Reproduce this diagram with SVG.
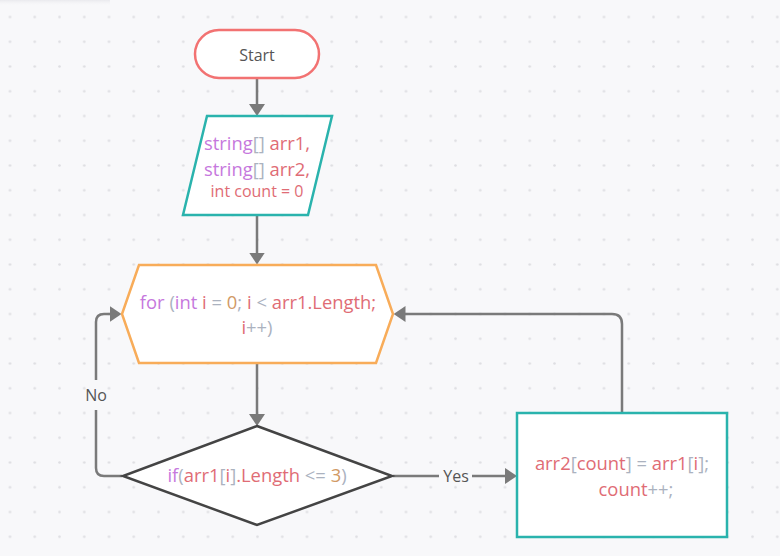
<svg xmlns="http://www.w3.org/2000/svg" width="780" height="556" viewBox="0 0 780 556">
<defs>
<pattern id="dots" x="-2.375" y="4.625" width="24.75" height="24.75" patternUnits="userSpaceOnUse">
<circle cx="12.375" cy="12.375" r="1.3" fill="#dedee2"/>
</pattern>
<marker id="arr" viewBox="0 0 12 16" refX="6" refY="8" markerWidth="12" markerHeight="16" markerUnits="userSpaceOnUse" orient="auto">
<path d="M0,0 L12,8 L0,16 z" fill="#7a7a7a"/>
</marker>
<linearGradient id="shade" x1="0" y1="0" x2="0" y2="1">
<stop offset="0" stop-color="#e6e6ea" stop-opacity="0.8"/>
<stop offset="1" stop-color="#f8f8fa" stop-opacity="0"/>
</linearGradient>
</defs>
<style>
text{font-family:"Open Sans","Noto Sans","DejaVu Sans",sans-serif;}
.code{font-size:18.4px;}
.lbl{font-size:16px;fill:#555;}
.kw{fill:#c678dd;}
.v{fill:#e06c75;}
.p{fill:#abb2bf;}
.n{fill:#d19a66;}
.con{fill:none;stroke:#7a7a7a;stroke-width:2.5;}
.shape{fill:#fff;stroke-width:2.5;}
</style>
<rect width="780" height="556" fill="#f8f8fa"/>
<rect width="780" height="556" fill="url(#dots)"/>
<rect x="0" y="0" width="110" height="6" fill="url(#shade)"/>

<g id="connectors">
<path class="con" d="M257 78 V110" marker-end="url(#arr)"/>
<path class="con" d="M257 215 V258.5" marker-end="url(#arr)"/>
<path class="con" d="M257 363 V420" marker-end="url(#arr)"/>
<path class="con" d="M122 476 H104 Q96 476 96 468 V410"/>
<path class="con" d="M96 380 V322 Q96 314 104 314 H115.5" marker-end="url(#arr)"/>
<text class="lbl" x="96" y="401" text-anchor="middle">No</text>
<path class="con" d="M393 476 H439"/>
<path class="con" d="M472 476 H511" marker-end="url(#arr)"/>
<text class="lbl" x="456" y="481.5" text-anchor="middle">Yes</text>
<path class="con" d="M622 413 V324 Q622 314 612 314 H399.5" marker-end="url(#arr)"/>
</g>

<g id="start">
<rect class="shape" x="195" y="30" width="124" height="48" rx="24" stroke="#f27272"/>
<text x="257" y="61" text-anchor="middle" font-size="16" fill="#555">Start</text>
</g>

<g id="input">
<polygon class="shape" points="207,116 332,116 308,215 183,215" stroke="#2ab3ad"/>
<text class="code" x="257" y="150" text-anchor="middle"><tspan class="kw">string</tspan><tspan class="p">[]</tspan><tspan class="v"> arr1,</tspan></text>
<text class="code" x="257" y="175.5" text-anchor="middle"><tspan class="kw">string</tspan><tspan class="p">[]</tspan><tspan class="v"> arr2,</tspan></text>
<text x="257" y="197" text-anchor="middle" font-size="16" class="v">int count = 0</text>
</g>

<g id="loop">
<polygon class="shape" points="139,265 376,265 393,314 376,363 139,363 122,314" stroke="#f8ac59"/>
<text class="code" x="258" y="309" text-anchor="middle"><tspan class="kw">for</tspan><tspan class="p"> (</tspan><tspan class="kw">int</tspan><tspan class="v"> i</tspan><tspan class="p"> = </tspan><tspan class="n">0</tspan><tspan class="p">;</tspan><tspan class="v"> i</tspan><tspan class="p"> &lt; </tspan><tspan class="v">arr1.Length;</tspan></text>
<text class="code" x="257" y="334" text-anchor="middle"><tspan class="v">i</tspan><tspan class="p">++)</tspan></text>
</g>

<g id="condition">
<polygon class="shape" points="257,426 392,476 257,525 123,476" stroke="#444"/>
<text class="code" x="257" y="482" text-anchor="middle"><tspan class="kw">if</tspan><tspan class="p">(</tspan><tspan class="v">arr1</tspan><tspan class="p">[</tspan><tspan class="v">i</tspan><tspan class="p">]</tspan><tspan class="v">.Length</tspan><tspan class="p"> &lt;= </tspan><tspan class="n">3</tspan><tspan class="p">)</tspan></text>
</g>

<g id="assign">
<rect class="shape" x="517" y="413" width="210" height="124" stroke="#2ab3ad"/>
<text class="code" x="622" y="470" text-anchor="middle"><tspan class="v">arr2</tspan><tspan class="p">[</tspan><tspan class="v">count</tspan><tspan class="p">] = </tspan><tspan class="v">arr1</tspan><tspan class="p">[</tspan><tspan class="v">i</tspan><tspan class="p">];</tspan></text>
<text class="code" x="636" y="495.5" text-anchor="middle"><tspan class="v">count</tspan><tspan class="p">++;</tspan></text>
</g>
</svg>
